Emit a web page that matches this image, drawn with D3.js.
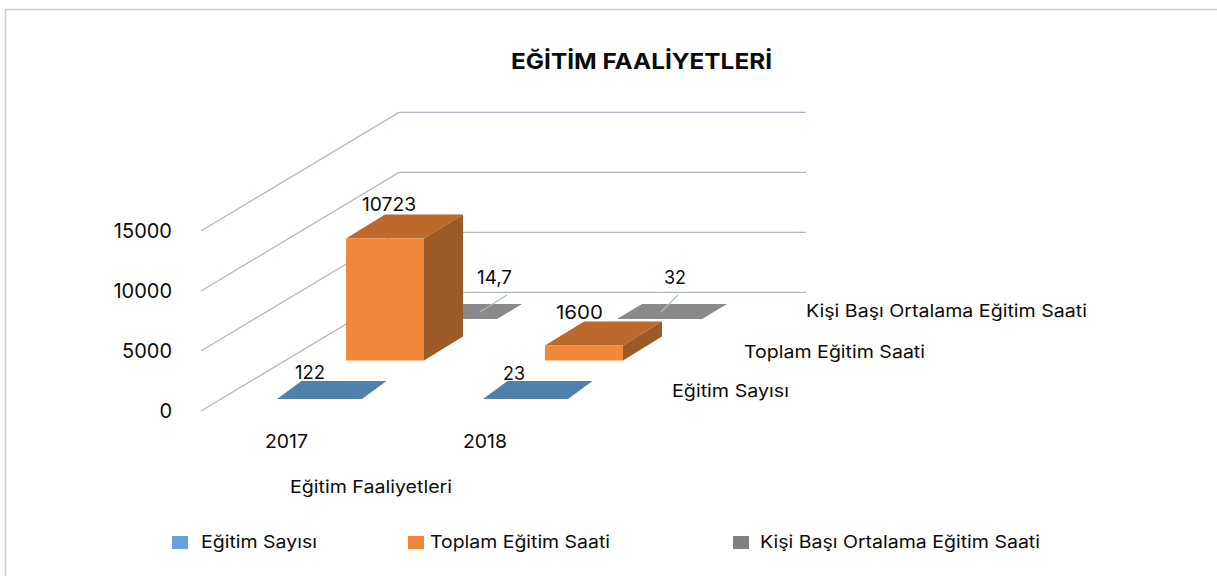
<!DOCTYPE html>
<html lang="tr"><head><meta charset="utf-8">
<script src="https://cdn.jsdelivr.net/npm/d3@7/dist/d3.min.js"></script>
<style>html,body{margin:0;padding:0;background:#fff}svg{display:block}text{font-family:Inter,"DejaVu Sans",sans-serif;fill:#0c0c0c}</style>
</head><body><svg id="c" width="1217" height="576"></svg>
<script>
const title = "EĞİTİM FAALİYETLERİ";
const axisTitle = "Eğitim Faaliyetleri";
const categories = ["2017", "2018"];
const seriesNames = ["Eğitim Sayısı", "Toplam Eğitim Saati", "Kişi Başı Ortalama Eğitim Saati"];
const egitimSayisi = [122, 23];
const toplamSaat = [10723, 1600];
const kisiBasi = [14.7, 32];
const yTicks = [0, 5000, 10000, 15000];

const svg = d3.select("#c");
const fmt = d3.formatLocale({decimal:",",thousands:"",grouping:[3],currency:["",""]}).format("~f");
const txt = (t,x,y,len,size=17.5,weight=400,anchor="start")=>svg.append("text")
  .attr("x",x).attr("y",y).attr("font-size",size).attr("font-weight",weight).attr("text-anchor",anchor)
  .attr("textLength",len).attr("lengthAdjust","spacingAndGlyphs").text(t);

// Frame
svg.append("path").attr("d","M5.5,576V9.5H1217").attr("fill","none").attr("stroke","#c9ced3").attr("stroke-width",1.6);

txt(title,511,69,261,22,700);

// Value axis / walls
const y = d3.scaleLinear().domain([0,15000]).range([411,231]);
const depth = {x:198,y:-118.6}, backRight = 806;
const grid = svg.append("g").attr("fill","none").attr("stroke","#aeb8c2").attr("stroke-width",1.2);
yTicks.forEach(t=>{
  const p = d3.path();
  p.moveTo(201,y(t)); p.lineTo(201+depth.x,y(t)+depth.y); p.lineTo(backRight,y(t)+depth.y);
  grid.append("path").attr("d",p.toString());
});
const yAxis = svg.append("g").attr("transform","translate(172,0.4)")
  .call(d3.axisLeft(y).tickValues(yTicks).tickSize(0).tickPadding(0).tickFormat(d3.format("d")));
yAxis.select(".domain").remove();
yAxis.selectAll("text").attr("font-size",20).style("font-family","Inter").attr("fill","#0c0c0c");

// Bars (3-D projected)
const barH = d3.scaleLinear().domain([0,200,1600,10723]).range([0,0,15,122]);
const series = [
 {name:seriesNames[2],values:kisiBasi,x:d3.scaleOrdinal(categories,[412,617]),base:319,w:85,dx:25,dy:-15,front:"#8a8a8a",top:"#8a8a8a",side:"#6c6c6c"},
 {name:seriesNames[1],values:toplamSaat,x:d3.scaleOrdinal(categories,[346,545]),base:360.6,w:78,dx:39,dy:-24,front:"#f0873a",top:"#bc692b",side:"#9c5a26"},
 {name:seriesNames[0],values:egitimSayisi,x:d3.scaleOrdinal(categories,[277,483]),base:399,w:85,dx:24.5,dy:-18,front:"#4f81ab",top:"#4f81ab",side:"#3f6a8e"}
];
const poly=(g,pts,fill)=>g.append("polygon").attr("points",pts.map(p=>p.join(",")).join(" ")).attr("fill",fill);
series.forEach(s=>{
  const g = svg.append("g").attr("class","series");
  s.values.forEach((v,i)=>{
    const x0=s.x(categories[i]), x1=x0+s.w, b=s.base, t=b-barH(v);
    poly(g,[[x0,t],[x0+s.dx,t+s.dy],[x1+s.dx,t+s.dy],[x1,t]],s.top);
    if(t<b){
      poly(g,[[x1,t],[x1+s.dx,t+s.dy],[x1+s.dx,b+s.dy],[x1,b]],s.side);
      poly(g,[[x0,t],[x1,t],[x1,b],[x0,b]],s.front);
    }
  });
});

// Leader lines for the two back-series labels
const leaders = svg.append("g").attr("stroke","#aeb8c2").attr("stroke-width",1.1);
[[480,312,507,295],[661,312,678,295]].forEach(l=>leaders.append("line")
  .attr("x1",l[0]).attr("y1",l[1]).attr("x2",l[2]).attr("y2",l[3]));

// Data labels
const labelSpots = {
 0:[[295,379,30],[503,380,22]],
 1:[[362,211,54],[556,319,47]],
 2:[[477,284,35],[664,284,22]]
};
[egitimSayisi,toplamSaat,kisiBasi].forEach((vals,k)=>vals.forEach((v,i)=>{
  const [x,yy,len]=labelSpots[k][i];
  txt(fmt(v),x,yy,len,19);
}));

// Category and depth axis text
txt(categories[0],265,448,43,19);
txt(categories[1],463,448,44,19);
txt(axisTitle,290,493,162);
txt(seriesNames[2],806,317,281);
txt(seriesNames[1],744,358,181);
txt(seriesNames[0],672,397,117);

// Legend
const legend = [
 {name:seriesNames[0],c:"#65a1da",sx:172,tx:201,len:116},
 {name:seriesNames[1],c:"#f0873a",sx:408,tx:430,len:180},
 {name:seriesNames[2],c:"#808080",sx:733,tx:760,len:280}
];
legend.forEach(l=>{
  svg.append("rect").attr("x",l.sx).attr("y",536).attr("width",16).attr("height",13).attr("fill",l.c);
  txt(l.name,l.tx,548,l.len);
});
</script></body></html>
